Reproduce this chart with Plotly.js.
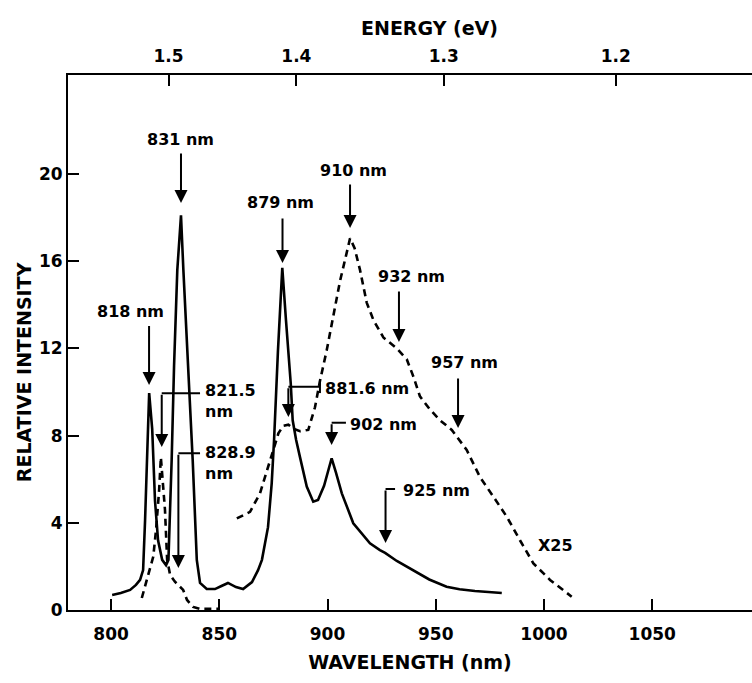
<!DOCTYPE html>
<html>
<head>
<meta charset="utf-8">
<script src="https://cdn.plot.ly/plotly-3.0.1.min.js"></script>
<style>html,body{margin:0;padding:0;background:#fff;}#chart{width:752px;height:683px;}</style>
</head>
<body>
<div id="chart"></div>
<script>
// ---- data ----
var solidWavelength = [800.5,804.5,808.8,811.5,813.4,814.8,815.7,816.6,817.6,819.0,820.3,821.7,823.6,825.4,826.5,828.0,829.1,830.6,832.3,833.4,835.7,837.7,839.6,841.1,844.2,848.0,851.0,854.0,857.7,861.0,865.1,867.9,869.7,872.5,874.2,875.3,877.1,879.1,880.8,883.0,883.9,885.5,887.3,890.4,893.4,895.6,898.4,901.9,903.9,906.6,911.9,919.6,924.2,926.6,932.0,939.6,947.0,955.0,961.0,968.1,980.5];
var solidIntensity  = [0.69,0.78,0.92,1.15,1.38,1.83,4.1,7.3,9.95,8.3,5.0,3.2,2.3,2.06,2.3,6.9,11.2,15.6,18.1,15.6,11.0,6.9,2.3,1.24,0.96,0.96,1.1,1.24,1.05,0.96,1.28,1.83,2.3,3.8,5.8,7.8,11.9,15.7,13.3,10.4,8.7,7.8,7.0,5.66,4.97,5.05,5.7,6.96,6.3,5.35,3.98,3.06,2.75,2.62,2.25,1.83,1.4,1.07,0.95,0.87,0.78];

var dashedWavelength = [814.2,816.6,819.5,820.8,822.2,823.0,824.9,825.9,827.3,829.5,831.0,833.3,835.1,837.9,841.1,850.0,null,858.1,861.0,864.2,868.8,872.7,875.0,877.3,879.5,881.9,884.5,887.3,891.1,894.2,896.5,899.6,902.7,905.8,909.6,910.4,912.5,915.0,918.1,921.2,925.8,932.0,936.6,939.7,942.7,947.3,952.0,957.4,964.3,970.4,976.6,982.8,988.9,995.1,1002.8,1012.8];
var dashedIntensity  = [0.55,1.4,2.45,3.7,5.5,7.0,4.6,2.3,1.6,1.3,1.15,0.92,0.46,0.14,0.05,0.05,null,4.2,4.35,4.5,5.35,6.6,7.26,8.1,8.45,8.5,8.3,8.2,8.26,9.3,10.5,11.9,13.5,15.1,16.7,17.05,16.6,15.6,14.1,13.3,12.5,12.0,11.5,10.7,9.8,9.2,8.7,8.26,7.34,6.1,5.2,4.28,3.2,2.14,1.38,0.61];

var wavelengthTicks = [800,850,900,950,1000,1050];
var intensityTicks  = [0,4,8,12,16,20];
var energyTicks     = [1.5,1.4,1.3,1.2];
var energyTickText  = ['1.5','1.4','1.3','1.2'];

// ---- layout helpers ----
var HC = 1239.84; // eV*nm
var energyTickWl = energyTicks.map(function(e){ return HC / e; });
var xRange = [780.1, 1096.1];
var yRange = [0, 24.54];
var FONT = 'DejaVu Sans';
var lblFont = {family: FONT, size: 16, color: '#000', weight: 'bold'};

var traces = [
  {x: solidWavelength, y: solidIntensity, type: 'scatter', mode: 'lines',
   line: {color: '#000', width: 2.6}, name: 'spectrum', showlegend: false, hoverinfo: 'skip'},
  {x: dashedWavelength, y: dashedIntensity, type: 'scatter', mode: 'lines', connectgaps: false,
   line: {color: '#000', width: 2.6, dash: '7px,5px'}, name: 'X25', showlegend: false, hoverinfo: 'skip'},
  {x: energyTickWl, y: energyTickWl.map(function(){return null;}), type: 'scatter', mode: 'lines',
   xaxis: 'x2', showlegend: false, hoverinfo: 'skip'}
];

function arrow(x, yTip, yTail) {
  return {x: x, y: yTip, ax: x, ay: yTail, xref: 'x', yref: 'y', axref: 'x', ayref: 'y',
          text: '', showarrow: true, arrowhead: 2, arrowsize: 1.3, arrowwidth: 2, arrowcolor: '#000', standoff: 0};
}
function label(text, x, y, anchor) {
  return {x: x, y: y, xref: 'x', yref: 'y', text: text, showarrow: false,
          xanchor: anchor || 'center', yanchor: 'middle', align: 'left', font: lblFont};
}
function hline(x0, x1, y) {
  return {type: 'line', xref: 'x', yref: 'y', x0: x0, x1: x1, y0: y, y1: y, line: {color: '#000', width: 2}};
}
function vline(x, y0, y1) {
  return {type: 'line', xref: 'x', yref: 'y', x0: x, x1: x, y0: y0, y1: y1, line: {color: '#000', width: 2}};
}

var titleFont = {family: FONT, size: 19, color: '#000', weight: 'bold'};

var annotations = [
  label('818 nm', 809.2, 13.7), arrow(817.55, 10.32, 13.1),
  label('831 nm', 832.3, 21.56), arrow(832.3, 18.67, 21.01),
  label('879 nm', 878.5, 18.67), arrow(879.2, 15.92, 18.03),
  label('910 nm', 912.2, 20.18), arrow(910.4, 17.52, 19.59),
  label('932 nm', 938.6, 15.28), arrow(933.0, 12.29, 14.68),
  label('957 nm', 963.5, 11.33), arrow(960.3, 8.35, 10.69),
  label('821.5<br>nm', 842.5, 9.59, 'left'), arrow(823.4, 7.48, 9.94),
  label('828.9<br>nm', 842.5, 6.74, 'left'), arrow(831.1, 1.93, 7.19),
  label('881.6 nm', 897.9, 10.18, 'left'), arrow(881.9, 8.85, 10.24),
  label('902 nm', 909.5, 8.53, 'left'), arrow(901.9, 7.57, 8.59),
  label('925 nm', 934.0, 5.46, 'left'), arrow(926.8, 3.07, 5.55),
  label('X25', 1005.1, 2.98),
  // axis titles placed as in the reference
  {xref: 'paper', yref: 'paper', x: 0.529, y: 1.088, text: 'ENERGY (eV)', showarrow: false,
   xanchor: 'center', yanchor: 'middle', font: titleFont},
  {xref: 'paper', yref: 'paper', x: -0.064, y: 0.445, text: 'RELATIVE INTENSITY', showarrow: false,
   textangle: -90, xanchor: 'center', yanchor: 'middle', font: titleFont}
];

var shapes = [
  hline(823.4, 841.1, 9.94),
  hline(831.1, 841.1, 7.19),
  hline(881.9, 896.5, 10.24), vline(896.5, 9.95, 10.5),
  hline(901.9, 908.5, 8.59),
  hline(926.8, 931.2, 5.55)
];

var tickFont = {family: FONT, size: 17, color: '#000', weight: 'bold'};

var layout = {
  width: 752, height: 683,
  margin: {l: 68, r: 0, t: 75, b: 73, pad: 0},
  paper_bgcolor: '#fff', plot_bgcolor: '#fff',
  font: {family: FONT, color: '#000', weight: 'bold'},
  showlegend: false,
  xaxis: {
    range: xRange, tickvals: wavelengthTicks, ticktext: wavelengthTicks.map(String),
    ticks: 'inside', ticklen: 11, tickwidth: 2, tickcolor: '#000',
    showline: true, linewidth: 2, linecolor: '#000', showgrid: false, zeroline: false,
    tickfont: tickFont, ticklabelstandoff: 8,
    title: {text: 'WAVELENGTH (nm)', font: titleFont, standoff: 12},
    automargin: false, fixedrange: true
  },
  xaxis2: {
    range: xRange, overlaying: 'x', side: 'top', anchor: 'y',
    tickvals: energyTickWl, ticktext: energyTickText,
    ticks: 'inside', ticklen: 11, tickwidth: 2, tickcolor: '#000',
    showline: true, linewidth: 2, linecolor: '#000', showgrid: false, zeroline: false,
    tickfont: tickFont, ticklabelstandoff: 4,
    automargin: false, fixedrange: true
  },
  yaxis: {
    range: yRange, tickvals: intensityTicks, ticktext: intensityTicks.map(String),
    ticks: 'inside', ticklen: 11, tickwidth: 2, tickcolor: '#000',
    showline: true, linewidth: 2, linecolor: '#000', showgrid: false, zeroline: false,
    tickfont: tickFont, ticklabelstandoff: 0,
    automargin: false, fixedrange: true
  },
  annotations: annotations,
  shapes: shapes
};

Plotly.newPlot('chart', traces, layout, {staticPlot: true, displayModeBar: false});
</script>
</body>
</html>
